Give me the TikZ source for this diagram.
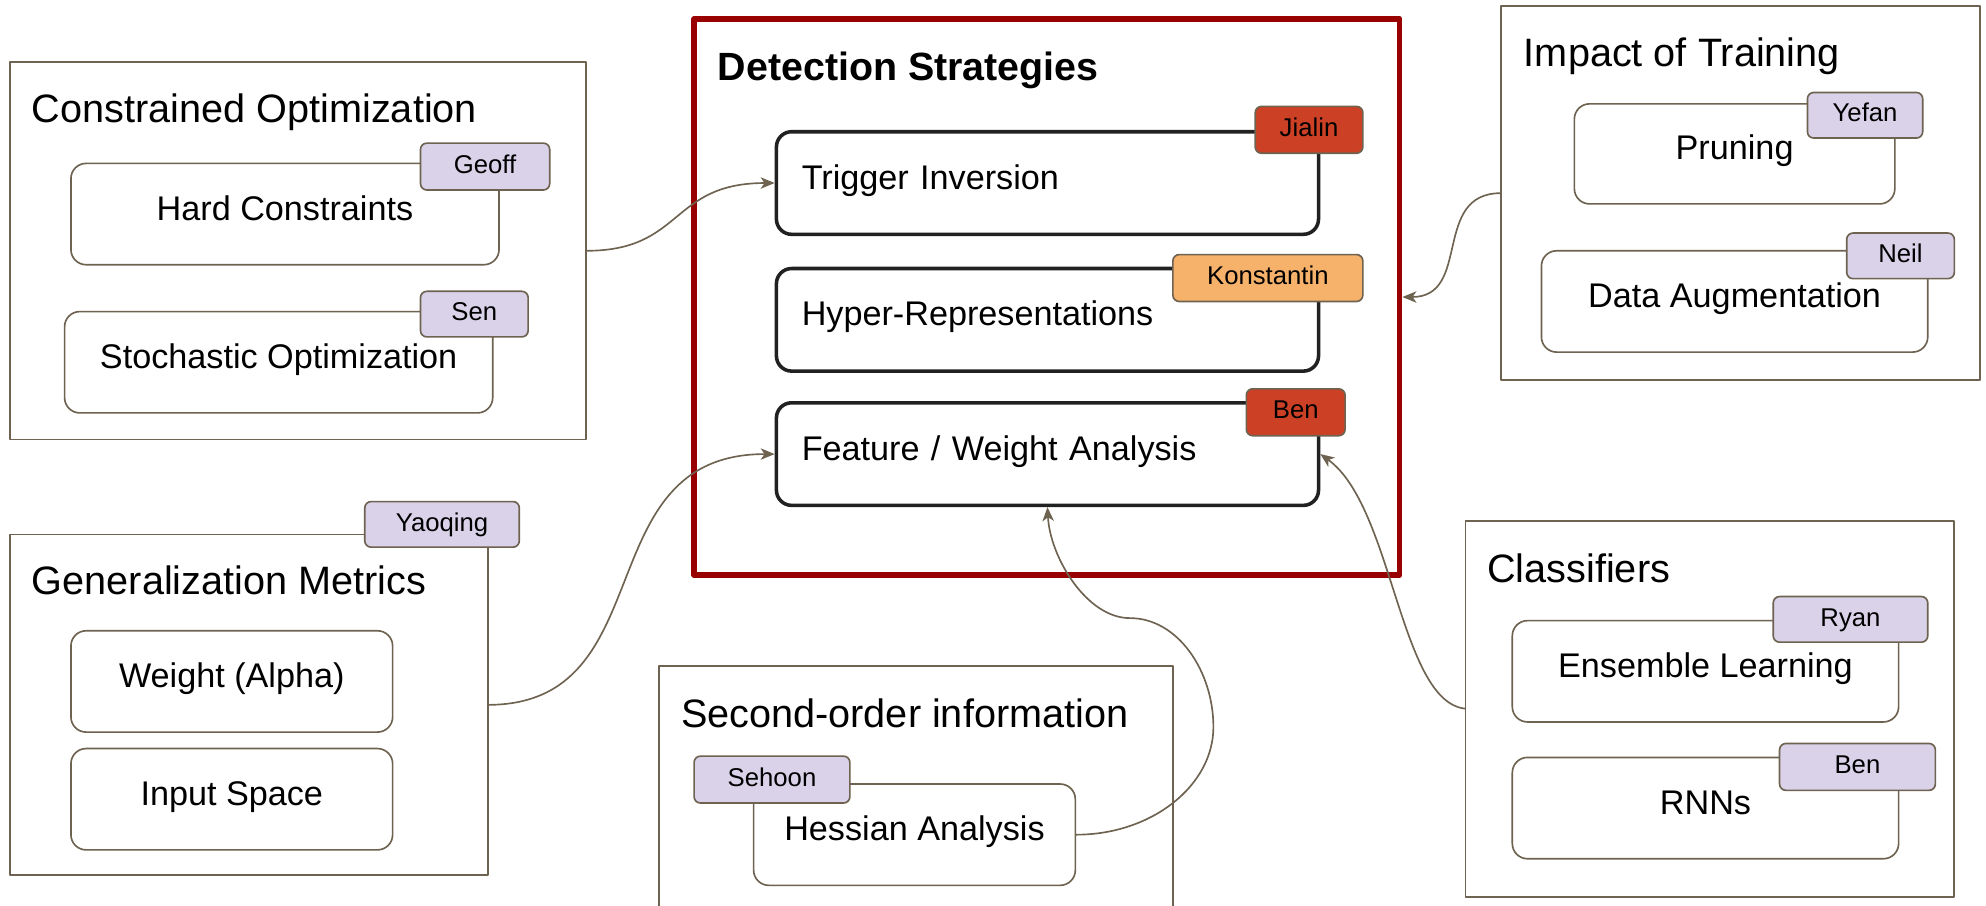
\documentclass[tikz,border=0pt]{standalone}
\usepackage{fontspec}
\setmainfont{Liberation Sans}
\usetikzlibrary{arrows.meta}

\definecolor{frame}{RGB}{110,98,80}
\definecolor{ink}{RGB}{33,33,33}
\definecolor{lilac}{RGB}{217,210,233}
\definecolor{berry}{RGB}{204,65,37}
\definecolor{apricot}{RGB}{246,178,107}
\definecolor{maroon}{RGB}{153,0,0}

\newcommand\gtfont{\fontsize{31.3}{37}\selectfont}
\newcommand\bxfont{\fontsize{27}{32}\selectfont}
\newcommand\tgfont{\fontsize{20.3}{24}\selectfont}

\tikzset{
  groupbox/.style={draw=frame, line width=1.5pt, inner sep=0pt, outer sep=0pt},
  subbox/.style={draw=frame, line width=1.3pt, rounded corners=12pt, fill=white,
    inner sep=0pt, text height=0.95em, text depth=0pt, font=\bxfont},
  detbox/.style={subbox, draw=ink, line width=2.8pt, align=left,
    text width=388pt, inner xsep=20pt, minimum width=428pt, minimum height=81pt},
  tagbox/.style={draw=frame, line width=1.3pt, rounded corners=5pt, fill=lilac,
    inner sep=0pt, text height=1.05em, text depth=0pt, font=\tgfont},
  grouptitle/.style={anchor=base west, inner sep=0pt, font=\gtfont},
  link/.style={draw=frame, line width=1.3pt,
    -{Stealth[length=11pt, width=9pt, inset=3pt]}}
}

\begin{document}
\begin{tikzpicture}[x=1pt, y=-1pt, line join=round]
\useasboundingbox[fill=white] (0,0) rectangle (1568,715);

% ---- group frames ----
\node[groupbox, minimum width=455pt, minimum height=298pt] (co) at (235.5,198) {};
\node[groupbox, minimum width=378pt, minimum height=295pt] (impact) at (1374,152.5) {};
\node[groupbox, minimum width=377pt, minimum height=269pt] (gen) at (196.5,556.5) {};
\node[groupbox, minimum width=386pt, minimum height=297pt] (classif) at (1350,559.5) {};
\draw[groupbox] (520,718) |- (926,526) -- (926,718);
\node[draw=maroon, line width=4.5pt, inner sep=0pt, minimum width=557pt,
      minimum height=439pt] (detect) at (826.5,234.5) {};

% ---- group titles ----
\node[grouptitle] (coTitle) at (25,96.5) {Constrained Optimization};
\node[grouptitle] (impactTitle) at (1203,52.5) {Impact of Training};
\node[grouptitle] (genTitle) at (25,469.5) {Generalization Metrics};
\node[grouptitle] (soTitle) at (537.5,574.5) {Second-order information};
\node[grouptitle] (clTitle) at (1174,459.5) {Classifiers};
\node[grouptitle, font=\fontsize{31.1}{37}\selectfont\bfseries] (detTitle) at (566.5,63.5) {Detection Strategies};

% ---- constrained optimization ----
\node[subbox, minimum width=338pt, minimum height=80pt] (hard) at (225,169) {Hard Constraints};
\node[subbox, minimum width=338pt, minimum height=80pt] (stoch) at (220,286) {Stochastic Optimization};
\node[tagbox, minimum width=102pt, minimum height=37pt] (geoff) at (383,131.5) {Geoff};
\node[tagbox, minimum width=85pt, minimum height=36pt] (sen) at (374.5,248) {Sen};

% ---- detection strategies ----
\node[detbox] (trigger) at (827,144.5) {Trigger Inversion};
\node[detbox] (hyper) at (827,252.5) {Hyper-Representations};
\node[detbox] (feature) at (827,358.5) {Feature / Weight Analysis};
\node[tagbox, fill=berry, minimum width=85pt, minimum height=37pt] (jialin) at (1033.5,102.5) {Jialin};
\node[tagbox, fill=apricot, minimum width=150pt, minimum height=37pt] (konst) at (1001,219.5) {Konstantin};
\node[tagbox, fill=berry, minimum width=78pt, minimum height=37pt] (benA) at (1023,325.5) {Ben};

% ---- impact of training ----
\node[subbox, minimum width=253pt, minimum height=79pt] (pruning) at (1369.5,121.5) {Pruning};
\node[subbox, minimum width=305pt, minimum height=80pt] (augment) at (1369.5,238) {Data Augmentation};
\node[tagbox, minimum width=91pt, minimum height=36pt] (yefan) at (1472.5,91) {Yefan};
\node[tagbox, minimum width=85pt, minimum height=36pt] (neil) at (1500.5,202) {Neil};

% ---- generalization metrics ----
\node[tagbox, minimum width=122pt, minimum height=36pt] (yaoqing) at (349,414) {Yaoqing};
\node[subbox, minimum width=254pt, minimum height=80pt] (weight) at (183,538) {Weight (Alpha)};
\node[subbox, minimum width=254pt, minimum height=80pt] (inputsp) at (183,631) {Input Space};

% ---- second-order information ----
\node[subbox, minimum width=254pt, minimum height=80pt] (hessian) at (722,659) {Hessian Analysis};
\node[tagbox, minimum width=123pt, minimum height=37pt] (sehoon) at (609.5,615.5) {Sehoon};

% ---- classifiers ----
\node[subbox, minimum width=305pt, minimum height=80pt] (ensemble) at (1346.5,530) {Ensemble Learning};
\node[subbox, minimum width=305pt, minimum height=80pt] (rnns) at (1346.5,638) {RNNs};
\node[tagbox, minimum width=122pt, minimum height=36pt] (ryan) at (1461,489) {Ryan};
\node[tagbox, minimum width=123pt, minimum height=37pt] (benB) at (1466.5,605.5) {Ben};

% ---- connectors ----
\coordinate (hessBendA) at (958,574);
\coordinate (hessBendB) at (892,488);
\draw[link] (co.east) .. controls +(77,0) and +(-83,0) .. (trigger.west);
\draw[link] (gen.east) .. controls +(140,0) and +(-150,0) .. (feature.west);
\draw[link] (impact.west) .. controls +(-55,0) and +(55,0) .. (detect.east);
\draw[link] (classif.west) .. controls +(-52,-5) and (1100,400) .. (feature.east);
\draw[link] (hessian.east) .. controls +(60,0) and (958,620) .. (hessBendA)
  .. controls (958,530) and (930,488) .. (hessBendB)
  .. controls (858,488) and (829,440) .. (feature.south);
\end{tikzpicture}
\end{document}
